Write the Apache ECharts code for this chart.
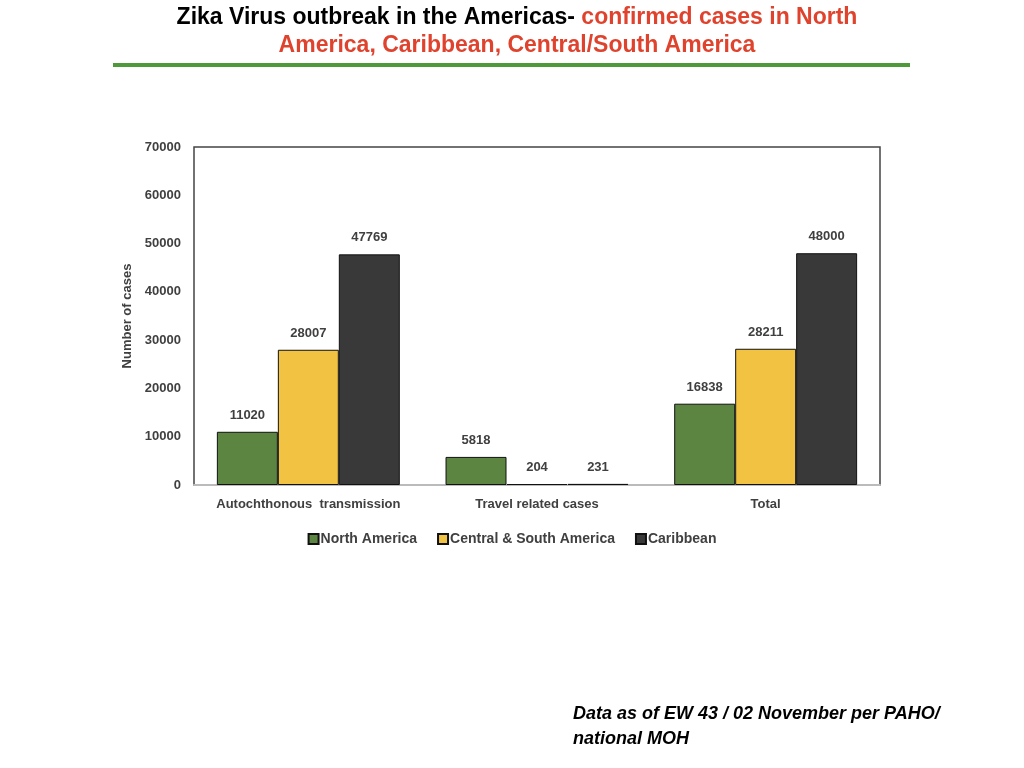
<!DOCTYPE html>
<html>
<head>
<meta charset="utf-8">
<script src="https://cdn.jsdelivr.net/npm/echarts@6/dist/echarts.min.js"></script>
<style>
  html, body { margin: 0; padding: 0; background: #fff; }
  #chart { width: 1024px; height: 768px; }
</style>
</head>
<body>
<div id="chart"></div>
<script>
// data
var categories = ['Autochthonous  transmission', 'Travel related cases', 'Total'];
var northAmerica = [11020, 5818, 16838];
var centralSouth = [28007, 204, 28211];
var caribbean = [47769, 231, 48000];
var yTicks = [0, 10000, 20000, 30000, 40000, 50000, 60000, 70000];

var chart = echarts.init(document.getElementById('chart'));
var font = 'Liberation Sans, Arial, sans-serif';

function barSeries(name, data, color) {
  return {
    name: name,
    type: 'bar',
    data: data,
    barGap: 0,
    barCategoryGap: '20%',
    itemStyle: { color: color, borderColor: '#111', borderWidth: 1 },
    label: {
      show: true,
      position: 'top',
      distance: 10,
      color: '#404040',
      fontFamily: font,
      fontWeight: 'bold',
      fontSize: 13
    }
  };
}

var option = {
  animation: false,
  backgroundColor: '#fff',
  title: {
    left: 512,
    top: -1,
    textAlign: 'center',
    text: '{b|Zika Virus outbreak in the Americas- }{r|confirmed cases in North}\n{r|America, Caribbean, Central/South America}',
    textStyle: {
      rich: {
        b: { color: '#000', fontFamily: font, fontWeight: 'bold', fontSize: 23, lineHeight: 28 },
        r: { color: '#e0432d', fontFamily: font, fontWeight: 'bold', fontSize: 23, lineHeight: 28 }
      }
    }
  },
  graphic: [
    { type: 'rect', shape: { x: 113, y: 63, width: 797, height: 4 }, style: { fill: '#4e9a3a' } },
    {
      type: 'text', left: 573, top: 702,
      style: {
        text: 'Data as of EW 43 / 02 November per PAHO/\nnational MOH',
        fill: '#000',
        font: 'italic bold 18px Liberation Sans, Arial, sans-serif',
        lineHeight: 25
      }
    }
  ],
  legend: {
    top: 527,
    left: 'center',
    itemWidth: 10,
    itemHeight: 10,
    itemGap: 20,
    icon: 'rect',
    textStyle: { color: '#404040', fontFamily: font, fontWeight: 'bold', fontSize: 14, padding: [0, 0, 0, -3] },
    data: ['North America', 'Central & South America', 'Caribbean']
  },
  grid: {
    left: 194, right: 144, top: 147, bottom: 283,
    show: true, borderColor: '#444', borderWidth: 1.5, backgroundColor: 'transparent'
  },
  xAxis: {
    type: 'category',
    data: categories,
    axisLine: { lineStyle: { color: '#bbb', width: 2 } },
    axisTick: { show: false },
    axisLabel: { interval: 0, color: '#404040', fontFamily: font, fontWeight: 'bold', fontSize: 13, margin: 13 }
  },
  yAxis: {
    type: 'value',
    min: yTicks[0],
    max: yTicks[yTicks.length - 1],
    interval: 10000,
    name: 'Number of cases',
    nameLocation: 'middle',
    nameGap: 49,
    nameTextStyle: { color: '#404040', fontFamily: font, fontWeight: 'bold', fontSize: 13 },
    axisLine: { show: false },
    axisTick: { show: false },
    splitLine: { show: false },
    axisLabel: {
      color: '#404040', fontFamily: font, fontWeight: 'bold', fontSize: 13, margin: 13,
      formatter: function (v) { return String(v); }
    }
  },
  series: [
    barSeries('North America', northAmerica, '#5b8540'),
    barSeries('Central & South America', centralSouth, '#f2c343'),
    barSeries('Caribbean', caribbean, '#3a3939')
  ]
};
chart.setOption(option);
</script>
</body>
</html>
